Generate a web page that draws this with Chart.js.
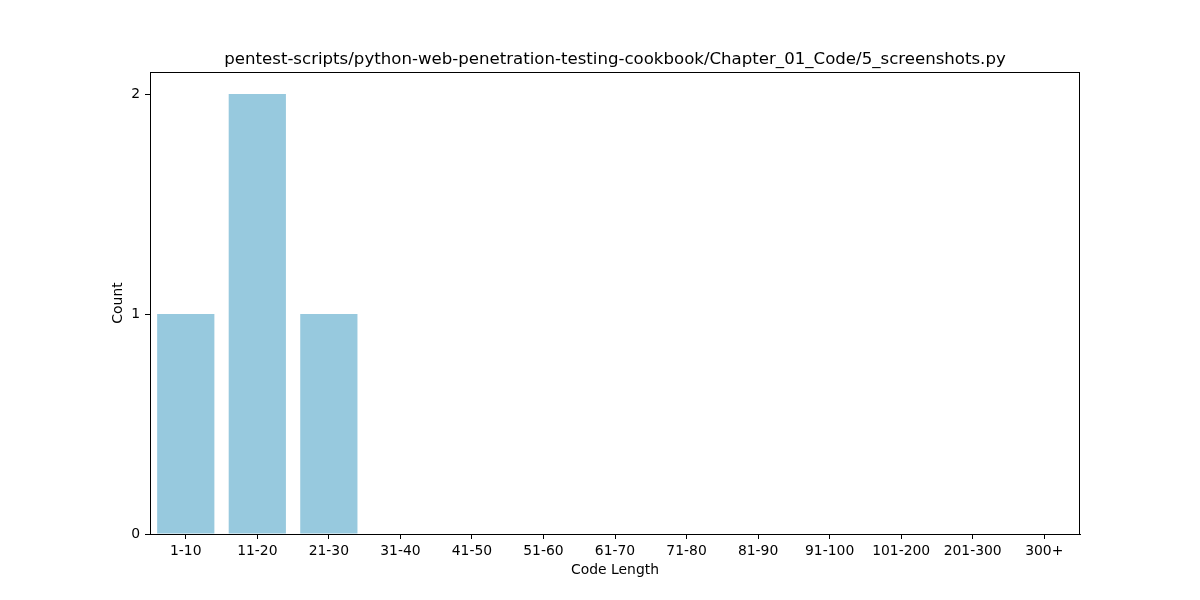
<!DOCTYPE html>
<html>
<head>
<meta charset="utf-8">
<script src="https://cdn.jsdelivr.net/npm/chart.js@4.4.0/dist/chart.umd.min.js"></script>
<style>
html,body{margin:0;padding:0;background:#fff;}
#wrap{width:1200px;height:600px;position:relative;}
</style>
</head>
<body>
<div id="wrap"><canvas id="c" width="1200" height="600"></canvas></div>
<script>
const categories = ["1-10","11-20","21-30","31-40","41-50","51-60","61-70","71-80","81-90","91-100","101-200","201-300","300+"];
const counts = [1,2,1,0,0,0,0,0,0,0,0,0,0];
const yTicks = [0,1,2];
const chartTitle = "pentest-scripts/python-web-penetration-testing-cookbook/Chapter_01_Code/5_screenshots.py";
const xTitle = "Code Length";
const yTitle = "Count";

const FONT = "'DejaVu Sans', sans-serif";

const framePlugin = {
  id: 'frame',
  afterDraw(chart) {
    const {ctx, chartArea: a} = chart;
    ctx.save();
    ctx.strokeStyle = '#000';
    ctx.lineWidth = 1;
    ctx.strokeRect(Math.round(a.left) + 0.5, Math.round(a.top) + 0.5, Math.round(a.right - a.left) - 1, Math.round(a.bottom - a.top));
    ctx.fillStyle = '#000';
    ctx.textAlign = 'center';
    ctx.textBaseline = 'alphabetic';
    ctx.font = "16.6px " + FONT;
    ctx.fillText(chartTitle, (a.left + a.right) / 2, 64);
    ctx.font = "13.9px " + FONT;
    ctx.textBaseline = 'middle';
    ctx.fillText(xTitle, (a.left + a.right) / 2, 570);
    ctx.translate(118, (a.top + a.bottom) / 2);
    ctx.rotate(-Math.PI / 2);
    ctx.fillText(yTitle, 0, 0);
    ctx.restore();
  }
};

new Chart(document.getElementById('c'), {
  type: 'bar',
  data: {
    labels: categories,
    datasets: [{
      data: counts,
      backgroundColor: '#97c9de',
      borderWidth: 0,
      barPercentage: 0.8,
      categoryPercentage: 1.0
    }]
  },
  options: {
    responsive: false,
    animation: false,
    devicePixelRatio: 1,
    layout: { padding: { left: 0, top: 72, right: 120, bottom: 0 } },
    plugins: { legend: { display: false }, tooltip: { enabled: false }, title: { display: false } },
    scales: {
      x: {
        offset: true,
        grid: { display: true, offset: false, drawOnChartArea: false, drawTicks: true, tickLength: 5, color: '#000', tickWidth: 1 },
        border: { display: true, color: '#000', width: 1 },
        ticks: { color: '#000', font: { family: FONT, size: 13.9 }, padding: 4, maxRotation: 0, autoSkip: false },
        afterFit(s) { s.height = 66; }
      },
      y: {
        min: 0,
        max: 2.1,
        grid: { display: true, drawOnChartArea: false, drawTicks: true, tickLength: 5, color: '#000', tickWidth: 1 },
        border: { display: true, color: '#000', width: 1 },
        ticks: { color: '#000', font: { family: FONT, size: 13.9 }, padding: 5, stepSize: 1, includeBounds: false },
        afterBuildTicks(s) { s.ticks = yTicks.map(v => ({ value: v })); },
        afterFit(s) { s.width = 150; }
      }
    }
  },
  plugins: [framePlugin]
});
</script>
</body>
</html>
